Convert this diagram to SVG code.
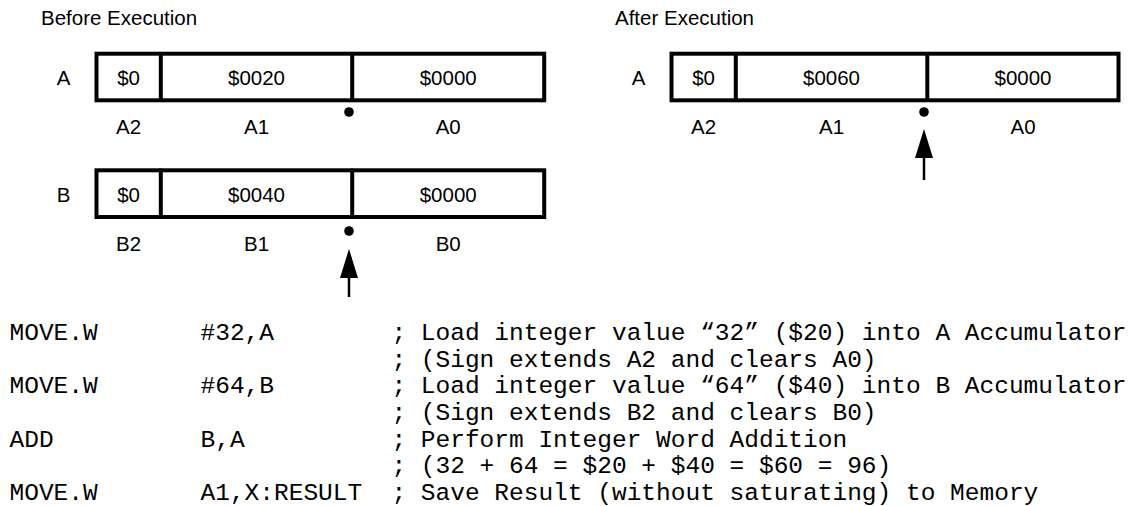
<svg xmlns="http://www.w3.org/2000/svg" width="1128" height="506" viewBox="0 0 1128 506">
<style>
.t{font-family:"Liberation Sans",Arial,sans-serif;font-size:20.5px;fill:#000}
.c{text-anchor:middle}
.box{fill:none;stroke:#000;stroke-width:4}
.div{stroke:#000;stroke-width:4}
.code{font-family:"Liberation Mono","Courier New",monospace;font-size:24.5px;fill:#000}
.arr{stroke:#000;stroke-width:2.5;fill:none}
</style>
<defs>
<marker id="ah" markerUnits="userSpaceOnUse" markerWidth="30" markerHeight="20" refX="0" refY="9" orient="auto">
<path d="M0,0 L29,9 L0,18 Z" fill="#000"/>
</marker>
</defs>
<rect width="1128" height="506" fill="#fff"/>
<text class="t" x="41" y="25">Before Execution</text>
<text class="t" x="615" y="25">After Execution</text>

<g id="beforeA">
<text class="t c" x="63.5" y="85">A</text>
<rect class="box" x="96.5" y="53.7" width="447.7" height="46.6"/>
<line class="div" x1="160.8" y1="52" x2="160.8" y2="100.3"/>
<line class="div" x1="352.2" y1="52" x2="352.2" y2="100.3"/>
<text class="t c" x="128.6" y="85">$0</text>
<text class="t c" x="256.5" y="85">$0020</text>
<text class="t c" x="448.2" y="85">$0000</text>
<text class="t c" x="128.6" y="134">A2</text>
<text class="t c" x="256.5" y="134">A1</text>
<text class="t c" x="448.2" y="134">A0</text>
<circle cx="349" cy="112" r="4.8"/>
</g>

<g id="beforeB">
<text class="t c" x="63.5" y="202">B</text>
<rect class="box" x="96.5" y="170.3" width="447.7" height="46.7"/>
<line class="div" x1="160.8" y1="168.6" x2="160.8" y2="217"/>
<line class="div" x1="352.2" y1="168.6" x2="352.2" y2="217"/>
<text class="t c" x="128.6" y="202">$0</text>
<text class="t c" x="256.5" y="202">$0040</text>
<text class="t c" x="448.2" y="202">$0000</text>
<text class="t c" x="128.6" y="251">B2</text>
<text class="t c" x="256.5" y="251">B1</text>
<text class="t c" x="448.2" y="251">B0</text>
<circle cx="349" cy="231" r="4.8"/>
</g>

<g id="afterA">
<text class="t c" x="638.5" y="85">A</text>
<rect class="box" x="671.5" y="53.7" width="447" height="46.6"/>
<line class="div" x1="735.8" y1="52" x2="735.8" y2="100.3"/>
<line class="div" x1="927.3" y1="52" x2="927.3" y2="100.3"/>
<text class="t c" x="703.6" y="85">$0</text>
<text class="t c" x="831.5" y="85">$0060</text>
<text class="t c" x="1023" y="85">$0000</text>
<text class="t c" x="703.6" y="134">A2</text>
<text class="t c" x="831.5" y="134">A1</text>
<text class="t c" x="1023" y="134">A0</text>
<circle cx="924" cy="112" r="4.8"/>
</g>

<g id="connectors">
<line class="arr" x1="349" y1="297" x2="349" y2="278" marker-end="url(#ah)"/>
<line class="arr" x1="924" y1="180" x2="924" y2="158" marker-end="url(#ah)"/>
</g>

<g id="code" class="code">
<text x="9.5" y="340">MOVE.W</text>
<text x="200.5" y="340">#32,A</text>
<text x="391.4" y="340">; Load integer value “32” ($20) into A Accumulator</text>
<text x="391.4" y="366.7">; (Sign extends A2 and clears A0)</text>
<text x="9.5" y="393.3">MOVE.W</text>
<text x="200.5" y="393.3">#64,B</text>
<text x="391.4" y="393.3">; Load integer value “64” ($40) into B Accumulator</text>
<text x="391.4" y="420">; (Sign extends B2 and clears B0)</text>
<text x="9.5" y="446.7">ADD</text>
<text x="200.5" y="446.7">B,A</text>
<text x="391.4" y="446.7">; Perform Integer Word Addition</text>
<text x="391.4" y="473.3">; (32 + 64 = $20 + $40 = $60 = 96)</text>
<text x="9.5" y="500">MOVE.W</text>
<text x="200.5" y="500">A1,X:RESULT</text>
<text x="391.4" y="500">; Save Result (without saturating) to Memory</text>
</g>
</svg>
